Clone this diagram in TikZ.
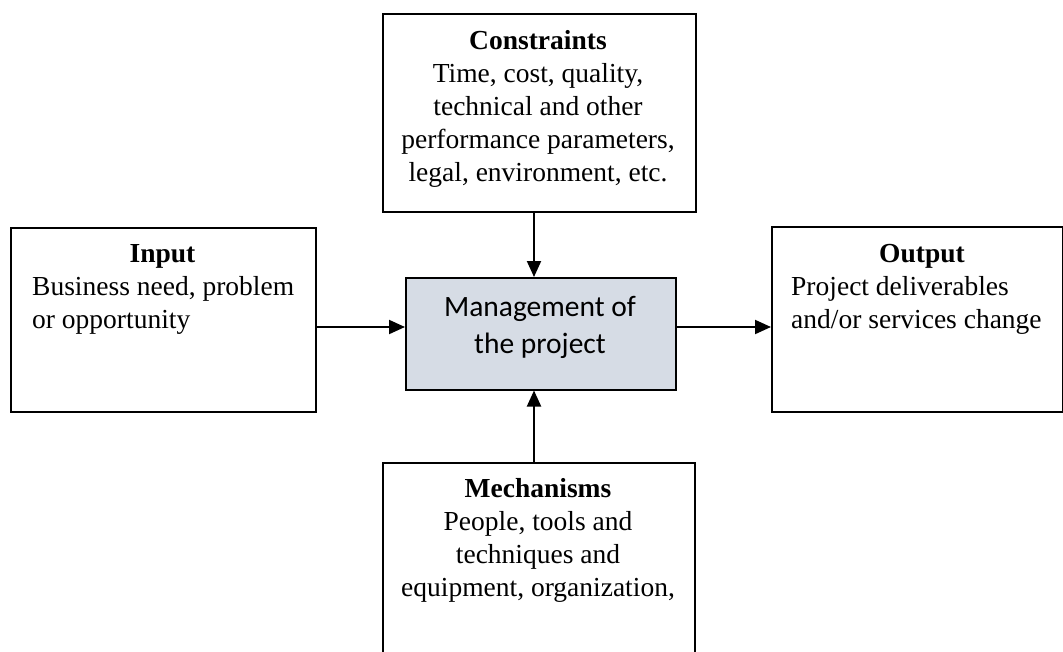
\documentclass[tikz,border=0pt]{standalone}
\usepackage{fontspec}
\setmainfont{Liberation Serif}
\newfontfamily\calibrifont{Carlito}
\usetikzlibrary{arrows.meta}
\definecolor{coreblue}{HTML}{D6DCE5}
\begin{document}
\begin{tikzpicture}[x=1pt,y=-1pt,
  panel/.style={draw=black, line width=1.5pt, anchor=north west, inner sep=0pt},
  txt/.style={anchor=base, inner sep=0pt, font=\fontsize{27.5}{33}\selectfont},
  txtleft/.style={txt, anchor=base west},
  head/.style={txt, font=\fontsize{27.5}{33}\selectfont\bfseries},
  coretxt/.style={anchor=base, inner sep=0pt, font=\calibrifont\fontsize{29.5}{37}\selectfont},
  flow/.style={line width=2pt, -{Triangle[length=16pt,width=14pt]}}]
\clip (0,0) rectangle (1063,651);

% boxes
\node[panel, minimum width=313pt, minimum height=198pt] (con) at (382,13) {};
\node[panel, minimum width=305pt, minimum height=184pt] (inp) at (10,227) {};
\node[panel, minimum width=291pt, minimum height=185pt] (out) at (771,226) {};
\node[panel, minimum width=312pt, minimum height=230pt] (mec) at (382,462) {};
\node[panel, fill=coreblue, minimum width=270pt, minimum height=112pt] (mgmt) at (405,277) {};

% constraints text
\node[head] (conT) at (538,49) {Constraints};
\node[txt] (con1) at (538,82) {Time, cost, quality,};
\node[txt] (con2) at (538,115) {technical and other};
\node[txt] (con3) at (538,148) {performance parameters,};
\node[txt] (con4) at (538,181) {legal, environment, etc.};

% input text
\node[head] (inpT) at (162.5,262) {Input};
\node[txtleft] (inp1) at (32,295) {Business need, problem};
\node[txtleft] (inp2) at (32,328) {or opportunity};

% output text
\node[head] (outT) at (922,262) {Output};
\node[txtleft] (out1) at (791,295) {Project deliverables};
\node[txtleft] (out2) at (791,328) {and/or services change};

% mechanisms text
\node[head] (mecT) at (538,497) {Mechanisms};
\node[txt] (mec1) at (538,530) {People, tools and};
\node[txt] (mec2) at (538,563) {techniques and};
\node[txt] (mec3) at (538,596) {equipment, organization,};

% central process
\node[coretxt] (mg1) at (540,316) {Management of};
\node[coretxt] (mg2) at (540,353) {the project};

% connectors
\coordinate (rowy) at (0,327);
\coordinate (colx) at (534,0);
\draw[flow] (inp.east |- rowy) -- (mgmt.west |- rowy);
\draw[flow] (mgmt.east |- rowy) -- (out.west |- rowy);
\draw[flow] (con.south -| colx) -- (mgmt.north -| colx);
\draw[flow] (mec.north -| colx) -- (mgmt.south -| colx);
\end{tikzpicture}
\end{document}
